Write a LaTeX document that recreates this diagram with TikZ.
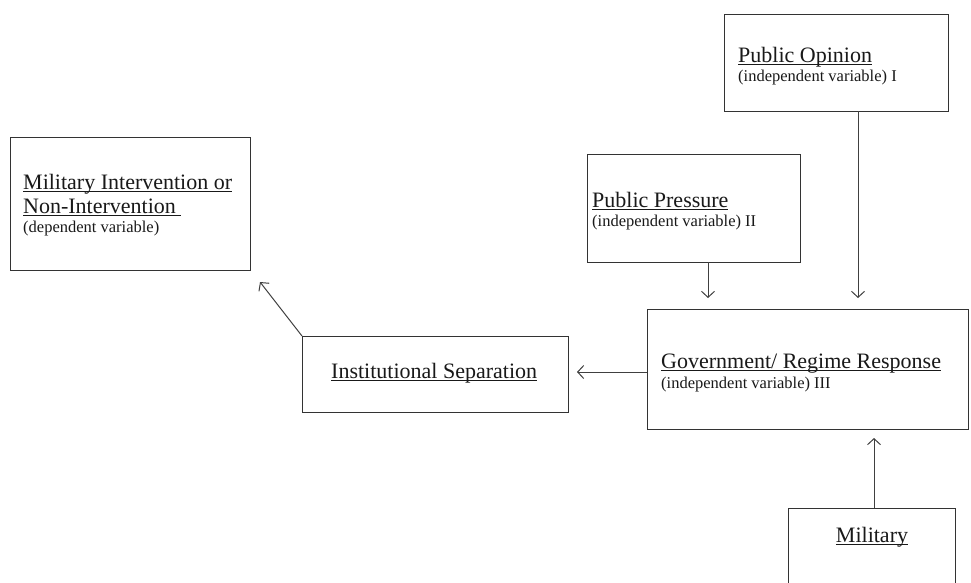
\documentclass[tikz,border=0pt]{standalone}
\usepackage{fontspec}
\setmainfont{Liberation Serif}
\usetikzlibrary{arrows.meta}
\newcommand\ulin[1]{\setbox0\hbox{#1}\rlap{\vrule height -2pt depth 3.1pt width \wd0}\box0}
\tikzset{
  box/.style={draw=black!80, line width=1pt, rectangle, inner sep=0pt, outer sep=0pt},
  conn/.style={draw=black!75, line width=1pt, -{Straight Barb[length=6pt,width=13pt]}},
  ttl/.style={anchor=base west, inner sep=0pt, text=black!90, font=\fontsize{22}{24}\selectfont},
  sub/.style={anchor=base west, inner sep=0pt, text=black!90, font=\fontsize{16.5}{20}\selectfont}
}
\begin{document}
\begin{tikzpicture}[x=1pt,y=-1pt]
\useasboundingbox (0,0) rectangle (971,582);
\clip (0,0) rectangle (971,582);
\fill[white] (0,0) rectangle (971,582);
% boxes
\node[box, minimum width=240pt, minimum height=133pt] (mi) at (130,203.5) {};
\node[box, minimum width=224pt, minimum height=97pt] (po) at (836,62.5) {};
\node[box, minimum width=213pt, minimum height=108pt] (pp) at (693.5,208) {};
\node[box, minimum width=266pt, minimum height=76pt] (is) at (435,374) {};
\node[box, minimum width=321pt, minimum height=120pt] (gr) at (807.5,369) {};
\node[box, minimum width=167pt, minimum height=110pt] (mil) at (871.5,563) {};
% texts
\node[ttl] (mi1) at (23,189) {\ulin{Military Intervention or}};
\node[ttl] (mi2) at (23,213) {\ulin{Non-Intervention\ }};
\node[sub] (mi3) at (23,232) {(dependent variable)};
\node[ttl] (po1) at (738,62) {\ulin{Public Opinion}};
\node[sub] (po2) at (738,81) {(independent variable) I};
\node[ttl] (pp1) at (592,207) {\ulin{Public Pressure}};
\node[sub] (pp2) at (592,226) {(independent variable) II};
\node[ttl] (is1) at (331,378) {\ulin{Institutional Separation}};
\node[ttl] (gr1) at (661,368) {\ulin{Government/ Regime Response}};
\node[sub] (gr2) at (661,388) {(independent variable) III};
\node[ttl, anchor=base] (mil1) at (872,542) {\ulin{Military}};
% connector ends
\coordinate (a1) at (858,298);
\coordinate (a2) at (708,298);
\coordinate (a3) at (577,372);
\coordinate (a4) at (260,282);
\coordinate (a5) at (874,438);
\draw[conn] (po.south -| a1) -- (a1);
\draw[conn] (pp.south -| a2) -- (a2);
\draw[conn] (gr.west |- a3) -- (a3);
\draw[conn] (is.north west) -- (a4);
\draw[conn] (mil.north -| a5) -- (a5);
\end{tikzpicture}
\end{document}
